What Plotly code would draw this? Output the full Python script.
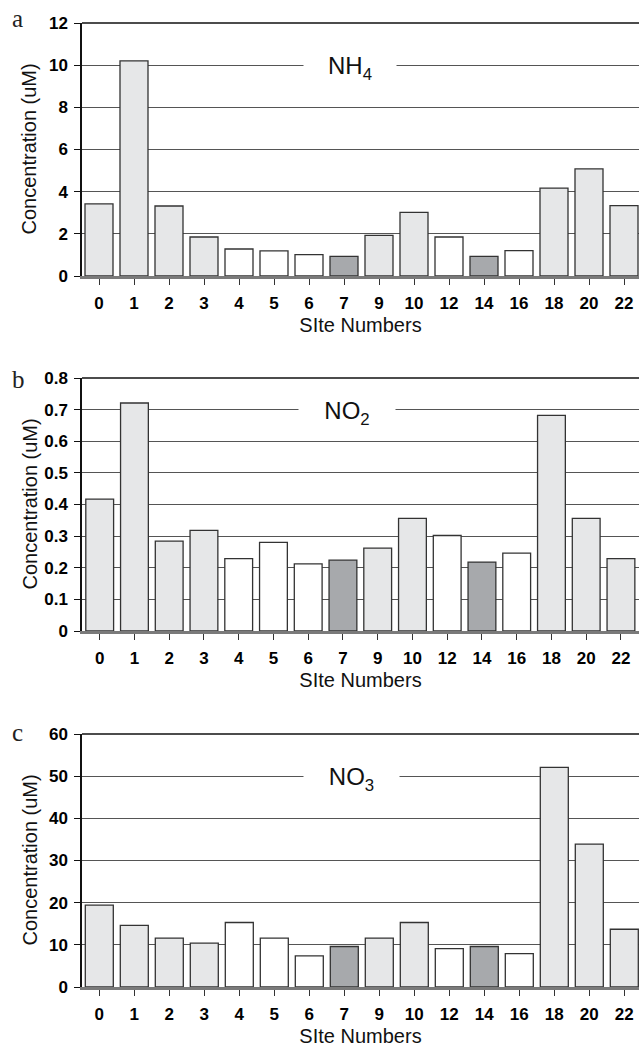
import plotly.graph_objects as go

# ---- data ----
sites = ["0", "1", "2", "3", "4", "5", "6", "7", "9", "10", "12", "14", "16", "18", "20", "22"]
site_group = ["light", "light", "light", "light", "white", "white", "white", "dark",
              "light", "light", "white", "dark", "white", "light", "light", "light"]
nh4 = [3.42, 10.2, 3.32, 1.85, 1.28, 1.19, 1.01, 0.93, 1.93, 3.02, 1.85, 0.93, 1.2, 4.17, 5.08, 3.34]
no2 = [0.417, 0.721, 0.284, 0.318, 0.229, 0.280, 0.212, 0.224, 0.262, 0.356, 0.302, 0.218, 0.246, 0.682, 0.356, 0.229]
no3 = [19.4, 14.6, 11.6, 10.4, 15.3, 11.6, 7.4, 9.6, 11.6, 15.3, 9.1, 9.6, 7.9, 52.1, 33.9, 13.7]
panel_letters = ["a", "b", "c"]
panel_names = ["NH<sub>4</sub>", "NO<sub>2</sub>", "NO<sub>3</sub>"]
y_ranges = [[0, 12], [0, 0.8], [0, 60]]
y_dticks = [2, 0.1, 10]
label_levels = [10, 0.7, 50]
y_title = "Concentration (uM)"
x_title = "SIte Numbers"

group_colors = {"light": "#e6e7e8", "white": "#ffffff", "dark": "#a7a9ac"}
colors = [group_colors[g] for g in site_group]

W, H = 639, 1049
ML, MR, MT, MB = 82, 0, 23, 62
plot_w = W - ML - MR
plot_h = H - MT - MB

def py(ypx):
    return (H - MB - ypx) / plot_h

def px(xpx):
    return (xpx - ML) / plot_w

# pixel layout of panels (top, bottom) and x mapping (center of cat 0, spacing)
panels_px = [(23, 276), (378, 631), (734, 987)]
x_maps = [(99.0, 35.0), (99.7, 34.75), (99.3, 35.0)]
gap_px = [(350, 90), (347, 94), (351.5, 93)]
letter_base = [28, 389, 742]

series = [nh4, no2, no3]

fig = go.Figure()
tick_font = dict(family="Liberation Sans", size=17, color="#000", weight=700)
title_font = dict(family="Liberation Sans", size=20, color="#111")

annotations = []
shapes = []
for i in range(3):
    xa = "x" if i == 0 else f"x{i+1}"
    ya = "y" if i == 0 else f"y{i+1}"
    fig.add_trace(go.Bar(
        x=sites, y=series[i], xaxis=xa, yaxis=ya,
        marker=dict(color=colors, line=dict(color="#333333", width=1.3)),
        showlegend=False, hoverinfo="skip",
    ))
    top, bot = panels_px[i]
    c0, sp = x_maps[i]
    xr = [(ML - c0) / sp, (W - MR - c0) / sp]
    xkey = "xaxis" if i == 0 else f"xaxis{i+1}"
    ykey = "yaxis" if i == 0 else f"yaxis{i+1}"
    fig.layout[xkey] = dict(
        domain=[0, 1], anchor=ya, type="category", range=xr,
        showline=True, linecolor="#7a7a7a", linewidth=3,
        ticks="outside", ticklen=6, tickcolor="#333", tickwidth=1,
        tickfont=tick_font, showgrid=False, zeroline=False,
        ticklabelstandoff=4,
        title=dict(text=x_title, font=title_font, standoff=6),
    )
    fig.layout[ykey] = dict(
        domain=[py(bot), py(top)], anchor=xa, range=y_ranges[i], dtick=y_dticks[i],
        showline=True, linecolor="#111", linewidth=1.5,
        ticks="outside", ticklen=6, tickcolor="#111", tickwidth=1,
        tickfont=tick_font, showgrid=True, gridcolor="#555555", gridwidth=1,
        zeroline=False, ticklabelstandoff=3,
    )
    # top border
    shapes.append(dict(type="line", xref=f"{xa} domain", yref=f"{ya} domain",
                       x0=0, x1=1, y0=1, y1=1, line=dict(color="#111", width=1.5)))
    # y title
    annotations.append(dict(text=y_title, xref="paper", yref="paper",
                            x=px(29), y=py((top + bot) / 2), xanchor="center", yanchor="middle",
                            textangle=-90, showarrow=False, font=title_font))
    # series label with white background breaking grid line
    gx, gw = gap_px[i]
    annotations.append(dict(text=panel_names[i], xref="paper", yref=ya,
                            x=px(gx), y=label_levels[i], xanchor="center", yanchor="middle",
                            yshift=-3, showarrow=False, bgcolor="#ffffff", width=gw, height=30,
                            font=dict(family="Liberation Sans", size=24, color="#111")))
    # panel letter
    annotations.append(dict(text=panel_letters[i], xref="paper", yref="paper",
                            x=px(10), y=py(letter_base[i] + 6), xanchor="left", yanchor="bottom",
                            showarrow=False,
                            font=dict(family="Liberation Serif", size=25, color="#222")))

fig.update_layout(
    width=W, height=H,
    margin=dict(l=ML, r=MR, t=MT, b=MB, pad=0),
    paper_bgcolor="white", plot_bgcolor="white",
    bargap=0.2,
    annotations=annotations, shapes=shapes,
)
fig.write_html("out.html", config={"displayModeBar": False},
               post_script="document.body.style.margin='0';document.body.style.overflow='hidden';")
